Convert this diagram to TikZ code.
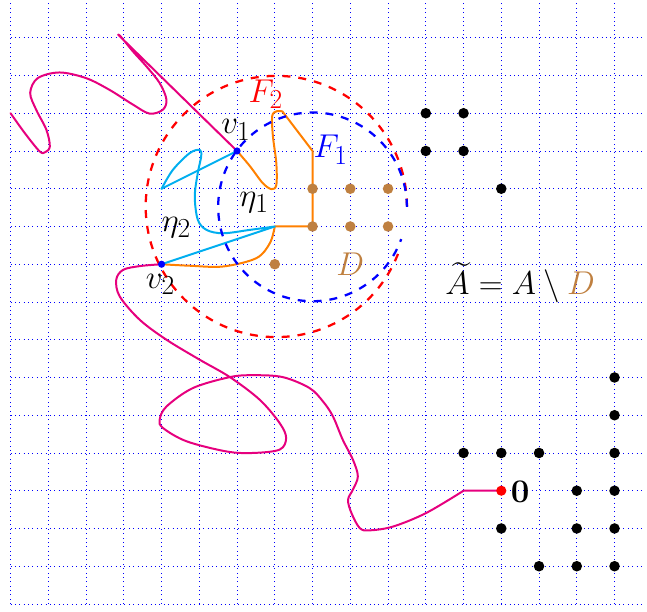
\documentclass[tikz,border=0pt]{standalone}
\usepackage{amsmath}
\usepackage{exscale}
\definecolor{mag}{RGB}{230,0,126}
\definecolor{cyn}{RGB}{0,174,239}
\definecolor{org}{RGB}{255,128,0}
\definecolor{brn}{rgb}{0.75,0.5,0.25}
\begin{document}
\begin{tikzpicture}[
  gridline/.style={blue, line width=0.55pt, dash pattern=on 0.55pt off 2.75pt},
  curve/.style={line width=1.5pt, line join=round, line cap=round},
  circ/.style={line width=1.7pt, dash pattern=on 6pt off 6pt},
  bdot/.style={circle, fill=black, inner sep=0pt, minimum size=0.28cm},
  ddot/.style={circle, fill=brn, inner sep=0pt, minimum size=0.28cm},
  vdot/.style={circle, fill=blue, inner sep=0pt, minimum size=0.19cm},
  odot/.style={circle, fill=red, inner sep=0pt, minimum size=0.27cm},
  lbl/.style={inner sep=0pt, font=\Huge},
]
\useasboundingbox (-13.28,-3.2) rectangle (3.86,13.0);
\draw[gridline] (-13,-3) grid (3.75,12.95);

% named points
\coordinate (v1) at (-7,9);
\coordinate (v2) at (-9,6);
\coordinate (o) at (0,0);
\coordinate (m1) at (-1,0);
\coordinate (tip) at (-10.15,12.08);
\coordinate (c1) at (-6,7);
\coordinate (c2) at (-5,7);
\coordinate (c3) at (-5,9);
\coordinate (c4) at (-5.8,10.05);
\coordinate (k1) at (-9,8);

% magenta curve
\draw[curve, mag] plot[smooth, tension=0.55] coordinates {
  (-13,10) (-12.62,9.47) (-12.23,8.99) (-12.08,8.97) (-11.96,9.12) (-12.05,9.56)
  (-12.32,10.09) (-12.48,10.54) (-12.28,10.93) (-11.7,11.08) (-11.0,10.93)
  (-10.38,10.62) (-9.76,10.23) (-9.32,9.99) (-8.97,10.09) (-8.87,10.36)
  (-9.05,10.8) (-9.4,11.24) (-9.76,11.64) (-10.08,12.03) (tip)} -- (v1);
\draw[curve, mag] plot[smooth, tension=0.55] coordinates {
  (v2) (-9.58,5.95) (-10.02,5.85) (-10.2,5.59) (-10.11,5.15) (-9.58,4.53)
  (-8.87,4.0) (-7.99,3.47) (-7.19,3.01) (-6.4,2.41) (-5.87,1.79) (-5.7,1.4)
  (-5.87,1.09) (-6.58,1.0) (-7.28,1.04) (-8.34,1.31) (-8.96,1.66) (-9.05,1.88)
  (-8.87,2.23) (-8.17,2.72) (-7.19,3.01) (-6.58,3.06) (-5.79,3.01) (-5.08,2.72)
  (-4.72,2.36) (-4.46,1.97) (-4.2,1.35) (-3.93,0.82) (-3.8,0.38) (-3.93,0.03)
  (-4.06,-0.24) (-3.97,-0.59) (-3.75,-0.99) (-3.49,-1.05) (-2.87,-0.95)
  (-1.99,-0.59) (m1)} -- (o);

% orange path
\draw[curve, org] plot[smooth, tension=0.55] coordinates {
  (v1) (-6.66,8.6) (-6.32,8.15) (-6.09,7.99) (-5.96,8.1) (-5.96,8.68)
  (-6.05,9.39) (-6.07,9.92) (-5.96,10.05) (c4)} -- (c3) -- (c2) -- (c1);
\draw[curve, org] plot[smooth, tension=0.55] coordinates {
  (c1) (-6.13,6.56) (-6.49,6.16) (-7.37,5.94) (-8.25,5.96) (v2)};

% cyan path
\draw[curve, cyn] (v1) -- (k1);
\draw[curve, cyn] plot[smooth, tension=0.55] coordinates {
  (k1) (-8.7,8.5) (-8.26,8.94) (-7.99,9.03) (-7.95,8.86) (-8.04,8.42)
  (-8.12,7.8) (-8.04,7.18) (-7.81,6.91) (-7.37,6.82) (-6.66,6.91) (c1)} -- (v2);

% dashed circles
\draw[circ, red] (-2.5,7.53) arc[start angle=0, end angle=340, radius=3.46];
\draw[circ, blue] (-2.5,7.52) arc[start angle=0, end angle=340, radius=2.5];

% black dots
\foreach \x/\y [count=\i] in {-2/10,-1/10,-2/9,-1/9,0/8,3/3,3/2,-1/1,0/1,1/1,3/1,2/0,3/0,0/-1,2/-1,3/-1,1/-2,2/-2,3/-2}
  \node[bdot] (b\i) at (\x,\y) {};
% brown dots
\foreach \x/\y [count=\i] in {-5/8,-4/8,-3/8,-5/7,-4/7,-3/7,-6/6}
  \node[ddot] (d\i) at (\x,\y) {};

\node[vdot] (pv1) at (v1) {};
\node[vdot] (pv2) at (v2) {};
\node[odot] (po) at (o) {};

% labels
\node[lbl, red] (F2) at (-6.24,10.5) {$F_2$};
\node[lbl, blue] (F1) at (-4.52,9.03) {$F_1$};
\node[lbl] (lv1) at (-7.03,9.56) {$v_1$};
\node[lbl] (lv2) at (-9.03,5.47) {$v_2$};
\node[lbl] (le1) at (-6.55,7.63) {$\eta_1$};
\node[lbl] (le2) at (-8.61,6.98) {$\eta_2$};
\node[lbl, brn] (lD) at (-4.0,6.0) {$D$};
\node[lbl, anchor=base] (lA) at (0.5,5.19) {$\widetilde{A}=A\setminus\textcolor{brn}{D}$};
\node[lbl] (l0) at (0.5,-0.03) {$\mathbf{0}$};
\end{tikzpicture}
\end{document}
